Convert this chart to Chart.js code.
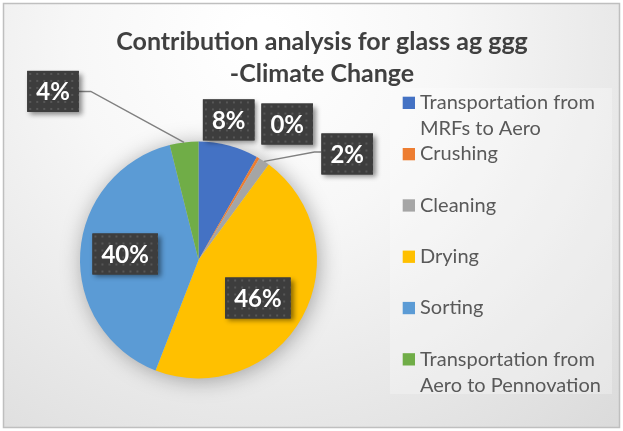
<!DOCTYPE html>
<html>
<head>
<meta charset="utf-8">
<script src="https://cdn.jsdelivr.net/npm/chart.js@4.4.1/dist/chart.umd.min.js"></script>
<style>
  html, body { margin: 0; padding: 0; background: #ffffff; }
  #wrap { width: 623px; height: 431px; position: relative; }
</style>
</head>
<body>
<div id="wrap"><canvas id="chart"></canvas></div>
<script>
// Process stages and their share of the climate-change impact (%)
const categories = [
  'Transportation from MRFs to Aero',
  'Crushing',
  'Cleaning',
  'Drying',
  'Sorting',
  'Transportation from Aero to Pennovation'
];
const shares = [8.2, 0.4, 1.5, 45.8, 40.2, 3.9];
const titleLines = ['Contribution analysis for glass ag ggg', '-Climate Change'];

const sliceColors = ['#4472C4', '#ED7D31', '#A5A5A5', '#FFC000', '#5B9BD5', '#70AD47'];

// Where each percentage tag sits: anchored on the slice's mid-angle at
// `ring` x radius, then nudged by (dx, dy). Leader lines join outside tags.
const tagLayout = [
  { ring: 1.0,  dx: 0,    dy: -25.5 },
  { ring: 1.0,  dx: 29,   dy: -33.6 },
  { ring: 1.0,  dx: 83,   dy: -7.4, leader: 'right' },
  { ring: 0.62, dx: -5,   dy: 2.6 },
  { ring: 0.62, dx: 0,    dy: -1.4 },
  { ring: 1.0,  dx: -131, dy: -51, leader: 'left' }
];

const FONT = 'Lato, "Open Sans", sans-serif';

function makeDotPattern(ctx) {
  const tile = document.createElement('canvas');
  tile.width = 7; tile.height = 7;
  const t = tile.getContext('2d');
  t.fillStyle = '#3d3d3d';
  t.fillRect(0, 0, 7, 7);
  t.fillStyle = '#575757';
  t.fillRect(2, 2, 2, 2);
  return ctx.createPattern(tile, 'repeat');
}

function wrapText(ctx, text, maxWidth) {
  const words = text.split(' ');
  const lines = [];
  let line = '';
  for (const w of words) {
    const test = line ? line + ' ' + w : w;
    if (line && ctx.measureText(test).width > maxWidth) {
      lines.push(line);
      line = w;
    } else {
      line = test;
    }
  }
  if (line) lines.push(line);
  return lines;
}

const decorPlugin = {
  id: 'decor',
  beforeDraw(chart) {
    const ctx = chart.ctx;
    const W = chart.width, H = chart.height;
    ctx.save();
    ctx.fillStyle = '#ffffff';
    ctx.fillRect(0, 0, W, H);
    // chart panel with soft grey shading
    const g = ctx.createRadialGradient(260, 40, 20, 260, 40, 580);
    g.addColorStop(0, '#ffffff');
    g.addColorStop(0.3, '#f7f7f7');
    g.addColorStop(1, '#d6d6d6');
    ctx.fillStyle = g;
    ctx.fillRect(3.5, 3.5, W - 7, H - 7);
    ctx.strokeStyle = '#bfbfbf';
    ctx.lineWidth = 1.5;
    ctx.strokeRect(3.5, 3.5, W - 7, H - 7);
    // legend panel
    ctx.fillStyle = 'rgba(255,255,255,0.28)';
    ctx.fillRect(390, 88, 222, 306);
    ctx.restore();
  },
  beforeDatasetsDraw(chart) {
    // soft shadow behind the pie
    const arc = chart.getDatasetMeta(0).data[0];
    if (!arc) return;
    const ctx = chart.ctx;
    ctx.save();
    ctx.shadowColor = 'rgba(0,0,0,0.35)';
    ctx.shadowBlur = 22;
    ctx.shadowOffsetX = 2;
    ctx.shadowOffsetY = 2;
    ctx.fillStyle = '#cccccc';
    ctx.beginPath();
    ctx.arc(arc.x, arc.y, arc.outerRadius - 1, 0, Math.PI * 2);
    ctx.fill();
    ctx.restore();
  },
  afterDatasetsDraw(chart) {
    const ctx = chart.ctx;
    const meta = chart.getDatasetMeta(0);
    const data = chart.data.datasets[0].data;
    const total = data.reduce((a, b) => a + b, 0);
    const pattern = makeDotPattern(ctx);
    ctx.save();
    ctx.font = 'bold 24px ' + FONT;
    meta.data.forEach((arc, i) => {
      const lay = tagLayout[i];
      const mid = (arc.startAngle + arc.endAngle) / 2;
      const r = arc.outerRadius * lay.ring;
      const ax = arc.x + Math.cos(mid) * r;
      const ay = arc.y + Math.sin(mid) * r;
      const cx = ax + lay.dx;
      const cy = ay + lay.dy;
      const text = Math.round(data[i] / total * 100) + '%';
      const w = ctx.measureText(text).width + 18;
      const h = 41;
      const left = cx - w / 2, top = cy - h / 2;

      if (lay.leader) {
        ctx.strokeStyle = '#808080';
        ctx.lineWidth = 1.5;
        ctx.beginPath();
        const ex = arc.x + Math.cos(mid) * arc.outerRadius;
        const ey = arc.y + Math.sin(mid) * arc.outerRadius;
        ctx.moveTo(ex, ey);
        if (lay.leader === 'right') {
          ctx.lineTo(left - 7, cy - 2);
          ctx.lineTo(left, cy - 2);
        } else {
          ctx.lineTo(left + w + 12, cy);
          ctx.lineTo(left + w, cy);
        }
        ctx.stroke();
      }

      ctx.save();
      ctx.shadowColor = 'rgba(0,0,0,0.45)';
      ctx.shadowBlur = 5;
      ctx.shadowOffsetX = 3;
      ctx.shadowOffsetY = 3;
      ctx.fillStyle = '#3d3d3d';
      ctx.fillRect(left, top, w, h);
      ctx.restore();
      ctx.save();
      ctx.translate(left, top);
      ctx.fillStyle = pattern;
      ctx.fillRect(0, 0, w, h);
      ctx.restore();

      ctx.fillStyle = '#ffffff';
      ctx.textAlign = 'center';
      ctx.textBaseline = 'middle';
      ctx.fillText(text, cx, cy + 1);
    });
    ctx.restore();
  },
  afterDraw(chart) {
    const ctx = chart.ctx;
    ctx.save();
    // title
    ctx.fillStyle = '#404040';
    ctx.font = 'bold 25px ' + FONT;
    ctx.textAlign = 'center';
    ctx.textBaseline = 'alphabetic';
    ctx.fillText(titleLines[0], 322, 50);
    ctx.fillText(titleLines[1], 322, 82);

    // legend
    const colors = chart.data.datasets[0].backgroundColor;
    ctx.font = '20px ' + FONT;
    ctx.textAlign = 'left';
    ctx.textBaseline = 'middle';
    chart.data.labels.forEach((label, i) => {
      const y0 = 100.7 + i * 51.3;
      ctx.fillStyle = colors[i];
      ctx.fillRect(402.7, y0 - 4, 12.3, 12.3);
      ctx.fillStyle = '#595959';
      wrapText(ctx, label, 200).forEach((ln, k) => {
        ctx.fillText(ln, 420, y0 + 2 + k * 26);
      });
    });
    ctx.restore();
  }
};

new Chart(document.getElementById('chart'), {
  type: 'pie',
  data: {
    labels: categories,
    datasets: [{
      data: shares,
      backgroundColor: sliceColors,
      borderWidth: 0
    }]
  },
  options: {
    responsive: true,
    maintainAspectRatio: false,
    animation: false,
    layout: { padding: { left: 80, right: 306, top: 141.5, bottom: 52.5 } },
    plugins: {
      legend: { display: false },
      title: { display: false },
      tooltip: { enabled: false }
    }
  },
  plugins: [decorPlugin]
});
</script>
</body>
</html>
